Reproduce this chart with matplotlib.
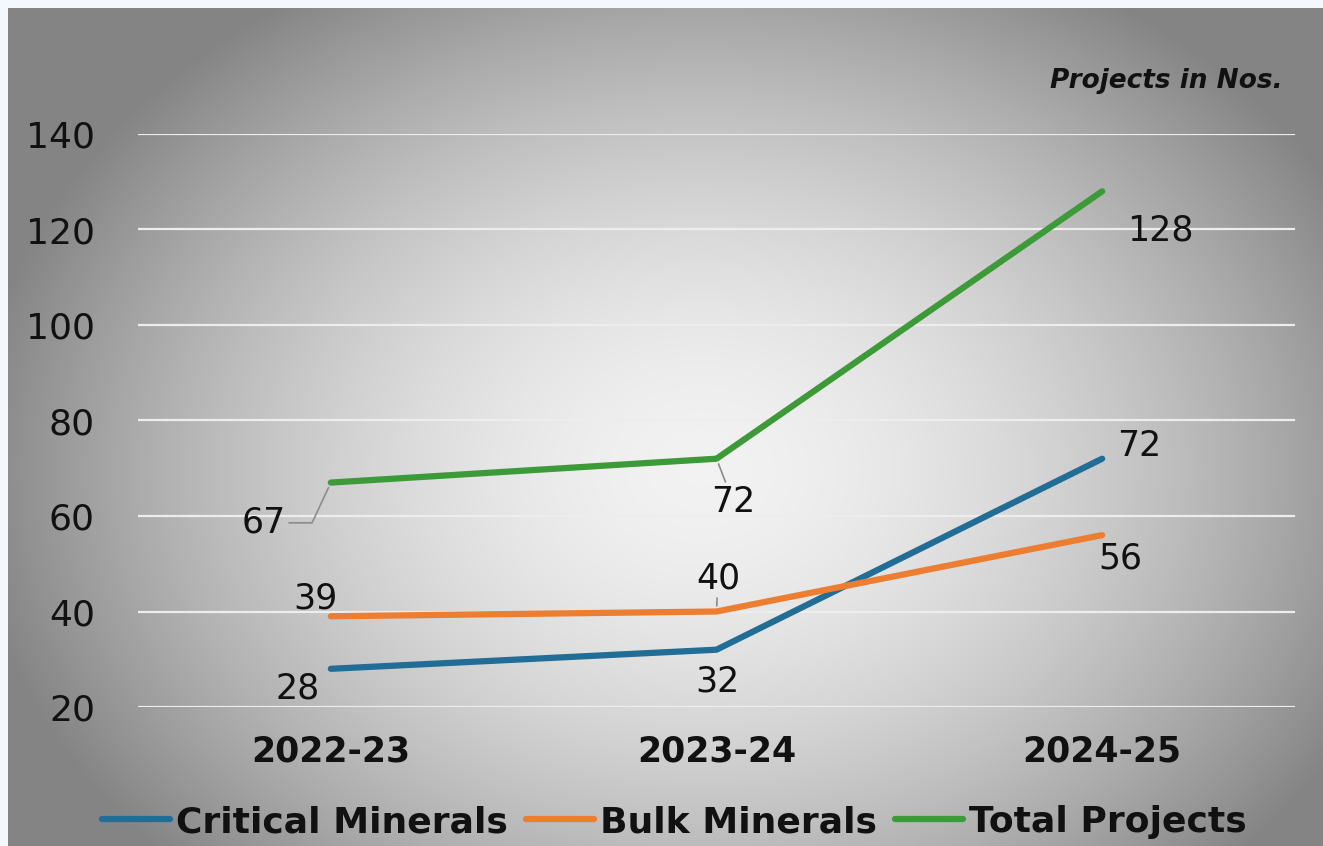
import numpy as np
import matplotlib
matplotlib.use("Agg")
import matplotlib.pyplot as plt

# values as printed on the chart
years = ["2022-23", "2023-24", "2024-25"]
critical = [28, 32, 72]
bulk = [39, 40, 56]
total = [67, 72, 128]

c_blue = "#226d95"
c_orange = "#ed7d31"
c_green = "#3c9a38"

W, H = 1323, 846
fig = plt.figure(figsize=(W / 100, H / 100), dpi=100)
fig.patch.set_facecolor("#f4f7fb")

# radial grey backdrop
bg = fig.add_axes([8 / W, 0, (W - 8) / W, (H - 8) / H])
bg.set_axis_off()
yy, xx = np.mgrid[8:H, 8:W]
r = np.sqrt(((xx - 700) / 720.0) ** 2 + ((yy - 470) / 560.0) ** 2)
v = 0.95 - 0.42 * np.clip(r, 0, 1.1) ** 1.7
v = np.clip(v, 0.52, 1)
bg.imshow(np.dstack([v, v, v]), aspect="auto", extent=(0, 1, 0, 1), origin="upper")
bg.set_xlim(0, 1)
bg.set_ylim(0, 1)

ax = fig.add_axes([138 / W, 1 - 707 / H, (1295 - 138) / W, (707 - 134) / H])
ax.set_facecolor("none")
x = np.arange(len(years))

lw = 4.5
ax.plot(x, critical, color=c_blue, lw=lw, solid_capstyle="round", label="Critical Minerals", zorder=3)
ax.plot(x, bulk, color=c_orange, lw=lw, solid_capstyle="round", label="Bulk Minerals", zorder=3)
ax.plot(x, total, color=c_green, lw=lw, solid_capstyle="round", label="Total Projects", zorder=3)

ax.set_xlim(-0.5, 2.5)
ax.set_ylim(20, 140)
ax.set_yticks(np.arange(20, 141, 20))
ax.set_xticks(x)
ax.set_xticklabels(years, fontsize=25, fontweight="bold")
ax.tick_params(axis="y", labelsize=26, length=0, pad=31, labelcolor="#111111")
ax.tick_params(axis="x", length=0, pad=20, labelcolor="#111111")
ax.grid(axis="y", color="#ededed", lw=1.6)
ax.set_axisbelow(True)
for s in ax.spines.values():
    s.set_visible(False)

lead = dict(arrowstyle="-", color="#8c8c8c", lw=1.2, shrinkA=0, shrinkB=4)
labels = [
    (0, critical[0], (-24, -14), None),
    (1, critical[1], (1, -23), None),
    (2, critical[2], (27, 9), None),
    (0, bulk[0], (-11, 13), None),
    (1, bulk[1], (1, 24), lead),
    (2, bulk[2], (13, -17), None),
    (0, total[0], (-48, -29), dict(lead, connectionstyle="angle,angleA=0,angleB=65,rad=0")),
    (1, total[1], (12, -31), lead),
    (2, total[2], (42, -28), None),
]
for xi, yi, off, arr in labels:
    ax.annotate(str(yi), xy=(xi, yi), xytext=off, textcoords="offset points",
                ha="center", va="center", fontsize=25, color="#111111",
                arrowprops=arr, zorder=4)

fig.text(1283 / W, 1 - 88 / H, "Projects in Nos.", ha="right", va="baseline",
         fontsize=19, fontweight="bold", fontstyle="italic", color="#111111")

fig.legend(loc="center", bbox_to_anchor=(674 / W, 1 - 822 / H), ncol=3, frameon=False,
           prop=dict(size=26, weight="bold"), handlelength=1.9, handletextpad=0.15,
           columnspacing=0.5, borderpad=0, borderaxespad=0, labelcolor="#111111")

fig.savefig("out.png", dpi=100)
